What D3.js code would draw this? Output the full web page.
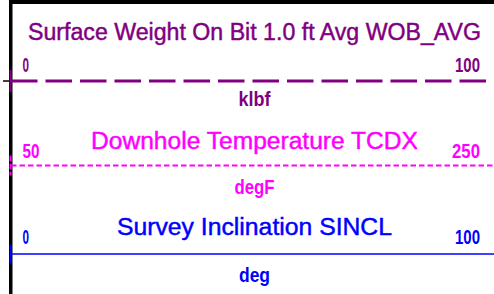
<!DOCTYPE html>
<html>
<head>
<meta charset="utf-8">
<script src="https://cdn.jsdelivr.net/npm/d3@7"></script>
<style>
  html, body { margin: 0; padding: 0; background: #fff; }
  svg { display: block; }
</style>
</head>
<body>
<svg id="chart" width="494" height="294"></svg>
<script>
// ---- data ----
const curveNames = ["Surface Weight On Bit 1.0 ft Avg WOB_AVG", "Downhole Temperature TCDX", "Survey Inclination SINCL"];
const curveUnits = ["klbf", "degF", "deg"];
const scaleMin = [0, 50, 0];
const scaleMax = [100, 250, 100];
const curveColors = ["#800080", "#ff00ff", "#0000ff"];
const curveDash = ["26.5,8", "5.5,3", null];

// ---- layout (not data) ----
const W = 494, H = 294;
const trackLeft = 11, trackRight = 494;
const rows = [
  { title: 40,  titleW: 453, nums: 72,  line: 81,    unit: 106, unitW: 32, lw: 3,   tickH: 22, leftW: 6.5, rightW: 25 },
  { title: 149, titleW: 327, nums: 158, line: 165.5, unit: 194, unitW: 40, lw: 2,   tickH: 20, leftW: 17,  rightW: 28 },
  { title: 235, titleW: 275, nums: 244, line: 254,   unit: 282, unitW: 31, lw: 1.6, tickH: 19, leftW: 6.5, rightW: 25 }
];

const svg = d3.select("#chart");

// frame: top rule and left track border
svg.append("rect").attr("x", 9).attr("y", 0).attr("width", W - 9).attr("height", 4).attr("fill", "#000");
svg.append("rect").attr("x", 9).attr("y", 0).attr("width", 3.5).attr("height", H).attr("fill", "#000");

const idx = d3.range(curveNames.length);

idx.forEach(i => {
  const r = rows[i];
  const x = d3.scaleLinear().domain([scaleMin[i], scaleMax[i]]).range([trackLeft, trackRight]);
  const g = svg.append("g");
  const col = curveColors[i];
  const mid = (x(scaleMin[i]) + x(scaleMax[i])) / 2 + 2;

  // title
  g.append("text")
    .attr("x", mid).attr("y", r.title)
    .attr("text-anchor", "middle")
    .attr("font-family", "'Liberation Sans', Arial, sans-serif")
    .attr("font-size", 23.5)
    .attr("fill", col)
    .attr("stroke", col).attr("stroke-width", 0.45)
    .attr("textLength", r.titleW).attr("lengthAdjust", "spacingAndGlyphs")
    .text(curveNames[i]);

  // scale labels
  g.append("text")
    .attr("x", x(scaleMin[i]) + 11.5).attr("y", r.nums)
    .attr("text-anchor", "start")
    .attr("font-family", "'Liberation Sans Narrow', 'Liberation Sans', Arial, sans-serif")
    .attr("font-weight", "bold")
    .attr("font-size", 20)
    .attr("fill", col)
    .attr("textLength", r.leftW).attr("lengthAdjust", "spacingAndGlyphs")
    .text(scaleMin[i]);
  g.append("text")
    .attr("x", x(scaleMax[i]) - 14).attr("y", r.nums)
    .attr("text-anchor", "end")
    .attr("font-family", "'Liberation Sans Narrow', 'Liberation Sans', Arial, sans-serif")
    .attr("font-weight", "bold")
    .attr("font-size", 20)
    .attr("fill", col)
    .attr("textLength", r.rightW).attr("lengthAdjust", "spacingAndGlyphs")
    .text(scaleMax[i]);

  // curve line sample
  g.append("line")
    .attr("x1", x(scaleMin[i])).attr("x2", x(scaleMax[i]))
    .attr("y1", r.line).attr("y2", r.line)
    .attr("stroke", col).attr("stroke-width", r.lw)
    .attr("stroke-dasharray", curveDash[i]);

  // small vertical tick at the track edge
  g.append("line")
    .attr("x1", x(scaleMin[i]) - 0.5).attr("x2", x(scaleMin[i]) - 0.5)
    .attr("y1", r.line - r.tickH / 2).attr("y2", r.line + r.tickH / 2)
    .attr("stroke", col).attr("stroke-width", 2)
    .attr("stroke-dasharray", i === 1 ? "6,2" : null);

  // units
  g.append("text")
    .attr("x", mid).attr("y", r.unit)
    .attr("text-anchor", "middle")
    .attr("font-family", "'Liberation Sans', Arial, sans-serif")
    .attr("font-weight", "bold")
    .attr("font-size", 20)
    .attr("fill", col)
    .attr("textLength", r.unitW).attr("lengthAdjust", "spacingAndGlyphs")
    .text(curveUnits[i]);
});

// small black tick left of the border at the first curve line
svg.append("line").attr("x1", 3).attr("x2", 9).attr("y1", rows[0].line).attr("y2", rows[0].line)
  .attr("stroke", "#000").attr("stroke-width", 1.5);
</script>
</body>
</html>
